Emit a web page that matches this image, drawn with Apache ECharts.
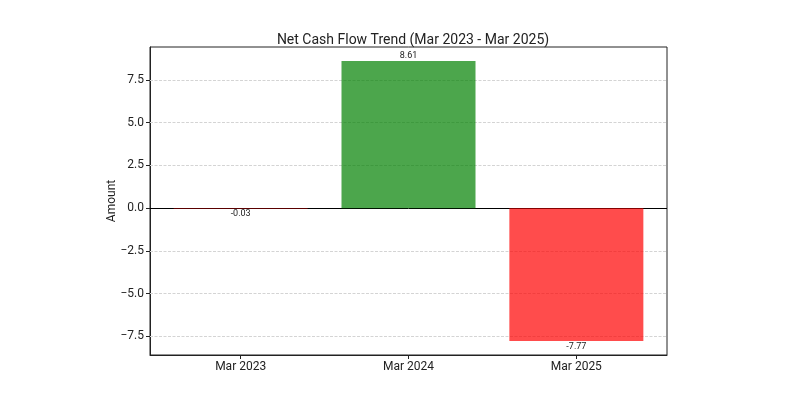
<!DOCTYPE html>
<html>
<head>
<meta charset="utf-8">
<script src="https://cdn.jsdelivr.net/npm/echarts@6/dist/echarts.min.js"></script>
<style>html,body{margin:0;padding:0;background:#fff;}#c{width:800px;height:400px;}</style>
</head>
<body>
<div id="c"></div>
<script>
const categories = ['Mar 2023', 'Mar 2024', 'Mar 2025'];
const values = [-0.03, 8.61, -7.77];
const yTicks = [-7.5, -5.0, -2.5, 0.0, 2.5, 5.0, 7.5];
const labels = ['-0.03', '8.61', '-7.77'];

const FONT = 'Roboto, "Noto Sans", sans-serif';
const chart = echarts.init(document.getElementById('c'), null, {renderer: 'canvas'});

const dataMin = Math.min(...values, 0), dataMax = Math.max(...values, 0);
const pad = (dataMax - dataMin) * 0.05;
const xPad = (categories.length - 1 + 0.8) * 0.05;

const fmtTick = v => (v < 0 ? '\u2212' : '') + Math.abs(v).toFixed(1);

chart.setOption({
  animation: false,
  title: {
    text: 'Net Cash Flow Trend (Mar 2023 - Mar 2025)',
    left: 408, top: 28, textAlign: 'center',
    textStyle: {fontFamily: FONT, fontSize: 14, fontWeight: 'normal', color: '#222'}
  },
  grid: {left: 150, right: 133, top: 47, bottom: 45, show: true, borderColor: '#222', borderWidth: 1, backgroundColor: 'transparent'},
  xAxis: {
    type: 'value',
    min: -0.4 - xPad, max: categories.length - 1 + 0.4 + xPad,
    axisLine: {show: true, onZero: false, lineStyle: {color: '#222'}},
    axisTick: {show: true, customValues: categories.map((c, i) => i), length: 4, lineStyle: {color: '#222'}},
    axisLabel: {customValues: categories.map((c, i) => i), formatter: v => categories[Math.round(v)] || '', fontFamily: FONT, fontSize: 12, color: '#222', margin: 6},
    splitLine: {show: false}
  },
  yAxis: {
    type: 'value',
    min: dataMin - pad, max: dataMax + pad,
    name: 'Amount', nameLocation: 'middle', nameGap: 32, nameMoveOverlap: false,
    nameTextStyle: {fontFamily: FONT, fontSize: 12, color: '#222'},
    axisLine: {show: true, onZero: false, lineStyle: {color: '#222'}},
    axisTick: {show: true, customValues: yTicks, length: 4, lineStyle: {color: '#222'}},
    axisLabel: {customValues: yTicks, formatter: fmtTick, fontFamily: FONT, fontSize: 12, color: '#222', margin: 6},
    splitLine: {show: false}
  },
  series: [{
    type: 'bar',
    barWidth: 134,
    data: values.map((v, i) => ({
      value: [i, v],
      itemStyle: {color: v >= 0 ? 'rgba(0,128,0,0.7)' : 'rgba(255,0,0,0.7)'},
      label: {show: true, position: v >= 0 ? 'top' : 'bottom', distance: 1, formatter: labels[i], fontFamily: FONT, fontSize: 9, color: '#222'}
    })),
    markLine: {
      silent: true, symbol: 'none', label: {show: false},
      data: yTicks.filter(t => t !== 0).map(t => ({yAxis: t, lineStyle: {color: '#d4d4d4', type: [3, 1.5], width: 1}}))
        .concat([{yAxis: 0, lineStyle: {color: '#000', type: 'solid', width: 1}}]),
      z: 1
    }
  }]
});
</script>
</body>
</html>
